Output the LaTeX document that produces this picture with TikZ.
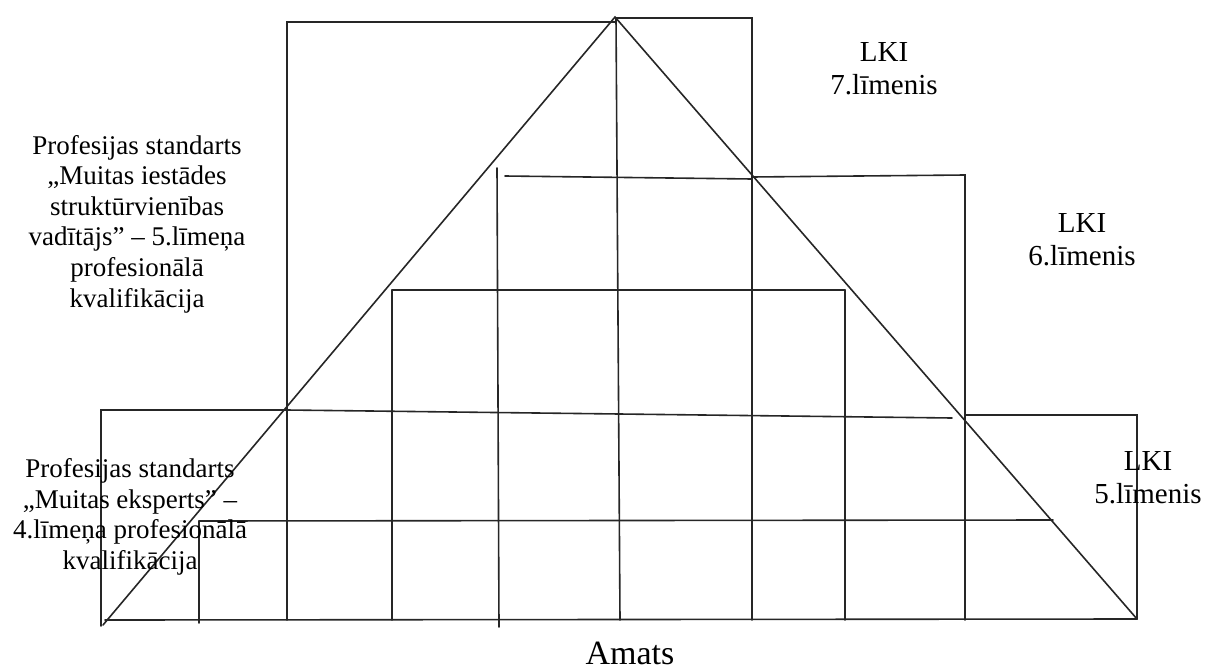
\documentclass[tikz,border=0pt]{standalone}
\usepackage{fontspec}
\setmainfont{Liberation Serif}
\begin{document}
\begin{tikzpicture}[x=1pt,y=-1pt,
  ln/.style={line width=1.6pt,draw=black!85,line cap=round,line join=miter},
  lbl/.style={align=center,inner sep=0pt,font=\fontsize{27}{30.6}\selectfont},
  lki/.style={align=center,inner sep=0pt,font=\fontsize{29}{33}\selectfont}]
\useasboundingbox (0,0) rectangle (1205,672);
% triangle
\coordinate (apex) at (615,17);
\coordinate (bl) at (103,625);
\coordinate (br) at (1137,619);
\draw[ln] (bl) -- (apex) -- (br);
% base
\draw[ln] (105,620) -- (br);
% outer stepped outline
\draw[ln] (287,620) -- (287,22) -- (615,22);
\draw[ln] (616,18) -- (752,18) -- (752,620);
\draw[ln] (752,177) -- (965,175) -- (965,620);
\draw[ln] (965,415) -- (1137,415) -- (br);
\draw[ln] (101,626) -- (101,410) -- (287,410);
% inner horizontals
\draw[ln] (505,176) -- (752,179);
\draw[ln] (392,290) -- (845,290);
\draw[ln] (287,410) -- (952,418);
\draw[ln] (199,521) -- (1053,520);
% inner verticals
\draw[ln] (199,521) -- (199,623);
\draw[ln] (392,290) -- (392,620);
\draw[ln] (497,168) -- (499,627);
\draw[ln] (616,18) -- (620,620);
\draw[ln] (845,290) -- (845,620);
% labels
\node[lbl] (ps5) at (137,224) {Profesijas standarts\\„Muitas iestādes\\struktūrvienības\\vadītājs” – 5.līmeņa\\profesionālā\\kvalifikācija};
\node[lbl] (ps4) at (130,517) {Profesijas standarts\\„Muitas eksperts” –\\4.līmeņa profesionālā\\kvalifikācija};
\node[lki] (l7) at (884,69) {LKI\\7.līmenis};
\node[lki] (l6) at (1082,240) {LKI\\6.līmenis};
\node[lki] (l5) at (1148,478) {LKI\\5.līmenis};
\node[inner sep=0pt,font=\fontsize{34}{40}\selectfont] (amats) at (630,653) {Amats};
\end{tikzpicture}
\end{document}
